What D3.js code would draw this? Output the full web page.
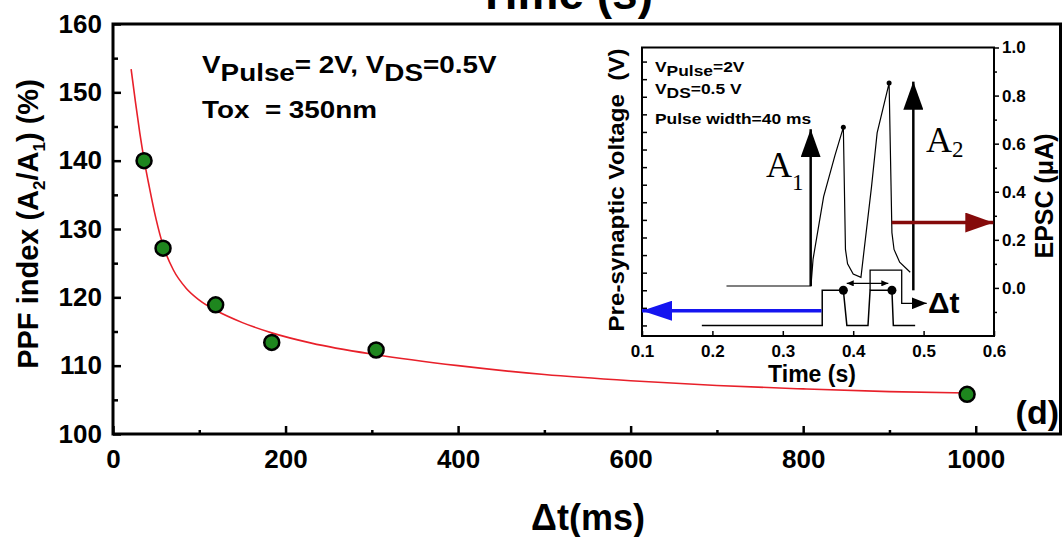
<!DOCTYPE html>
<html>
<head>
<meta charset="utf-8">
<script src="https://cdn.jsdelivr.net/npm/d3@7"></script>
<style>
  html, body { margin: 0; padding: 0; background: #fff; }
  svg { display: block; font-family: "Liberation Sans", Arial, sans-serif; font-weight: bold; }
  .pre { white-space: pre; }
</style>
</head>
<body>
<div id="chart"></div>
<script>
// main panel: PPF index vs pulse interval
const dtValues = [36, 58, 119, 184, 305, 990];
const ppfValues = [140, 127.2, 118.9, 113.4, 112.3, 105.8];
// fitted curve
const fitDt = [21, 26, 31, 36, 42, 50, 58, 70, 85, 100, 119, 150, 184, 230, 305, 400, 500, 600, 700, 800, 900, 990];
const fitPpf = [153.4, 148.6, 144.1, 140.2, 136.2, 131.4, 127.6, 124.0, 121.3, 119.6, 118.1, 116.3, 114.8, 113.3, 111.6, 110.0, 108.7, 107.8, 107.1, 106.6, 106.2, 106.0];
const xTicks = [0, 200, 400, 600, 800, 1000];
const yTicks = [100, 110, 120, 130, 140, 150, 160];

// inset: pre-synaptic pulses and EPSC
const epscTime = [0.220, 0.340, 0.343, 0.358, 0.374, 0.386, 0.389, 0.392, 0.400, 0.411, 0.414, 0.426, 0.434, 0.451, 0.455, 0.458, 0.466, 0.481];
const epscCurrent = [0.008, 0.008, 0.12, 0.38, 0.55, 0.668, 0.16, 0.10, 0.058, 0.044, 0.12, 0.42, 0.645, 0.852, 0.23, 0.16, 0.107, 0.065];
const pulseTime = [0.185, 0.356, 0.356, 0.386, 0.391, 0.421, 0.424, 0.455, 0.457, 0.488];
const pulseVolt = [0, 0, 2, 2, 0, 0, 2, 2, 0, 0];
const insetXTicks = [0.1, 0.2, 0.3, 0.4, 0.5, 0.6];
const insetYTicks = [0.0, 0.2, 0.4, 0.6, 0.8, 1.0];

const width = 1063, height = 537;
const svg = d3.select("#chart").append("svg")
  .attr("width", width).attr("height", height);

// ---------- main panel ----------
const x = d3.scaleLinear().domain([0, 1100]).range([113, 1062]);
const y = d3.scaleLinear().domain([100, 160]).range([434, 24]);

// cut-off title of the panel above
svg.append("text").attr("x", 653).attr("y", 9).attr("text-anchor", "end")
  .attr("font-size", 46).text("Time (s)");

const xAxis = d3.axisBottom(x).tickValues(xTicks).tickSize(-8).tickPadding(16).tickFormat(d3.format("d"));
const xMinor = d3.axisBottom(x).tickValues(d3.range(100, 1000, 200)).tickSize(-4).tickFormat("");
const yAxis = d3.axisLeft(y).tickValues(yTicks).tickSize(-8).tickPadding(11).tickFormat(d3.format("d"));
const yMinor = d3.axisLeft(y).tickValues(d3.range(105, 160, 10)).tickSize(-5).tickFormat("");

function styleAxis(g, fs, sw) {
  g.select(".domain").remove();
  g.selectAll(".tick line").attr("stroke", "#000").attr("stroke-width", sw);
  g.selectAll(".tick text").attr("font-size", fs).attr("fill", "#000")
    .attr("font-family", "Liberation Sans, Arial, sans-serif").attr("font-weight", "bold");
}
svg.append("g").attr("transform", `translate(0,${y(100)})`).call(xAxis).call(styleAxis, 26, 2.5);
svg.append("g").attr("transform", `translate(0,${y(100)})`).call(xMinor).call(styleAxis, 26, 2.5);
svg.append("g").attr("transform", `translate(${x(0)},0)`).call(yAxis).call(styleAxis, 26, 2.5);
svg.append("g").attr("transform", `translate(${x(0)},0)`).call(yMinor).call(styleAxis, 26, 2.5);

// frame
svg.append("rect").attr("x", x(0)).attr("y", y(160))
  .attr("width", x(1100) - x(0) - 1.5).attr("height", y(100) - y(160))
  .attr("fill", "none").attr("stroke", "#000").attr("stroke-width", 3);

// fit line
const fitData = fitDt.map((d, i) => [d, fitPpf[i]]);
svg.append("path").datum(fitData)
  .attr("fill", "none").attr("stroke", "#e8202a").attr("stroke-width", 1.6)
  .attr("d", d3.line().x(d => x(d[0])).y(d => y(d[1])).curve(d3.curveMonotoneX));

// data points
svg.append("g").selectAll("circle").data(dtValues.map((d, i) => [d, ppfValues[i]]))
  .join("circle")
  .attr("cx", d => x(d[0])).attr("cy", d => y(d[1])).attr("r", 7.5)
  .attr("fill", "#1e861e").attr("stroke", "#000").attr("stroke-width", 2.5);

// annotations
const ann = svg.append("g").attr("transform", "translate(202,73) scale(1.16,1)");
const t1 = ann.append("text").attr("font-size", 24);
t1.append("tspan").text("V");
t1.append("tspan").attr("dy", 8).text("Pulse");
t1.append("tspan").attr("dy", -8).text("= 2V, V");
t1.append("tspan").attr("dy", 8).text("DS");
t1.append("tspan").attr("dy", -8).text("=0.5V");
ann.append("text").attr("class", "pre").attr("y", 45).attr("font-size", 24).text("Tox  = 350nm");

svg.append("text").attr("x", 1059).attr("y", 424).attr("text-anchor", "end")
  .attr("font-size", 34).text("(d)");

// axis titles
svg.append("text").attr("x", 588).attr("y", 530).attr("text-anchor", "middle")
  .attr("font-size", 36).text("\u0394t(ms)");
const yl = svg.append("text").attr("transform", "translate(38,224) rotate(-90)")
  .attr("text-anchor", "middle").attr("font-size", 29);
yl.append("tspan").text("PPF index (A");
yl.append("tspan").attr("dy", 7).attr("font-size", 17).text("2");
yl.append("tspan").attr("dy", -7).text("/A");
yl.append("tspan").attr("dy", 7).attr("font-size", 17).text("1");
yl.append("tspan").attr("dy", -7).text(") (%)");

// ---------- inset ----------
const ix = d3.scaleLinear().domain([0.1, 0.6]).range([642, 994]);
const iy = d3.scaleLinear().domain([-0.2, 1.0]).range([336, 47.5]);
const iv = d3.scaleLinear().domain([-0.6, 15.8]).range([336, 47.5]);

const insetX = d3.axisBottom(ix).tickValues(insetXTicks).tickSize(-5).tickPadding(9).tickFormat(d3.format(".1f"));
const insetR = d3.axisRight(iy).tickValues(insetYTicks).tickSize(5).tickPadding(3).tickFormat(d3.format(".1f"));
const insetRMinor = d3.axisRight(iy).tickValues(d3.range(-0.1, 1.0, 0.2)).tickSize(3).tickFormat("");
const insetL = d3.axisLeft(iv).tickValues(d3.range(0, 16, 1)).tickSize(-5).tickFormat("");

svg.append("g").attr("transform", `translate(0,${iy(-0.2)})`).call(insetX).call(styleAxis, 17, 1.5);
svg.append("g").attr("transform", `translate(${ix(0.6)},0)`).call(insetR).call(styleAxis, 17, 1.5);
svg.append("g").attr("transform", `translate(${ix(0.6)},0)`).call(insetRMinor).call(styleAxis, 17, 1.5);
svg.append("g").attr("transform", `translate(${ix(0.1)},0)`).call(insetL).call(styleAxis, 17, 1.5);

svg.append("rect").attr("x", ix(0.1)).attr("y", iy(1.0))
  .attr("width", ix(0.6) - ix(0.1)).attr("height", iy(-0.2) - iy(1.0))
  .attr("fill", "none").attr("stroke", "#000").attr("stroke-width", 2);

// pulse trace
svg.append("path").datum(pulseTime.map((d, i) => [d, pulseVolt[i]]))
  .attr("fill", "none").attr("stroke", "#000").attr("stroke-width", 1.5)
  .attr("d", d3.line().x(d => ix(d[0])).y(d => iv(d[1])));
// EPSC trace
svg.append("path").datum(epscTime.map((d, i) => [d, epscCurrent[i]]))
  .attr("fill", "none").attr("stroke", "#000").attr("stroke-width", 1.2)
  .attr("d", d3.line().x(d => ix(d[0])).y(d => iy(d[1])));

// dots at peak ends
svg.append("g").selectAll("circle.pk").data([[0.386, 2], [0.455, 2]]).join("circle")
  .attr("cx", d => ix(d[0])).attr("cy", d => iv(d[1])).attr("r", 4.5).attr("fill", "#000");
svg.append("g").selectAll("circle.ep").data([[0.386, 0.668], [0.451, 0.852]]).join("circle")
  .attr("cx", d => ix(d[0])).attr("cy", d => iy(d[1])).attr("r", 2.5).attr("fill", "#000");

// arrow markers (length w, width h)
const defs = svg.append("defs");
function marker(id, color, w, h) {
  defs.append("marker").attr("id", id).attr("viewBox", `0 0 ${w} ${h}`)
    .attr("refX", w).attr("refY", h / 2).attr("markerWidth", w).attr("markerHeight", h)
    .attr("markerUnits", "userSpaceOnUse").attr("orient", "auto-start-reverse")
    .append("path").attr("d", `M0,0 L${w},${h / 2} L0,${h} Z`).attr("fill", color);
}
marker("blk", "#000", 28, 20);
marker("sm", "#000", 7, 6);
marker("mid", "#000", 15, 12);
marker("blue", "#1515f0", 30, 20);
marker("red", "#850a0a", 28, 20);

function arrow(x1, y1, x2, y2, color, sw, mk, both) {
  const l = svg.append("line").attr("x1", x1).attr("y1", y1).attr("x2", x2).attr("y2", y2)
    .attr("stroke", color).attr("stroke-width", sw).attr("marker-end", `url(#${mk})`);
  if (both) l.attr("marker-start", `url(#${mk})`);
}
// A1, A2 arrows
arrow(ix(0.3396), iy(0.008), ix(0.3396), iy(0.66), "#000", 2.5, "blk");
arrow(ix(0.4854), iy(-0.01), ix(0.4854), iy(0.858), "#000", 2.5, "blk");
// delta-t marker
arrow(ix(0.3908), iy(0.019), ix(0.4499), iy(0.019), "#000", 1.2, "sm", true);
svg.append("path").attr("fill", "none").attr("stroke", "#000").attr("stroke-width", 1.3)
  .attr("d", `M${ix(0.424)},${iv(2)} V${iy(0.074)} H${ix(0.4689)} V${iy(-0.064)} H${ix(0.5044)}`)
  .attr("marker-end", "url(#mid)");
// blue and red direction arrows
arrow(ix(0.355), iy(-0.095), ix(0.1), iy(-0.095), "#1515f0", 3.5, "blue");
arrow(ix(0.4547), iy(0.272), ix(0.599), iy(0.272), "#850a0a", 3.5, "red");

// inset labels
const ia = svg.append("g").attr("transform", "translate(655,72) scale(1.16,1)").attr("font-size", 15);
const l1 = ia.append("text");
l1.append("tspan").text("V");
l1.append("tspan").attr("dy", 4).text("Pulse");
l1.append("tspan").attr("dy", -4).text("=2V");
const l2 = ia.append("text").attr("y", 22);
l2.append("tspan").text("V");
l2.append("tspan").attr("dy", 4).text("DS");
l2.append("tspan").attr("dy", -4).text("=0.5 V");
ia.append("text").attr("y", 52).text("Pulse width=40 ms");

function bigA(xp, yp, sub, dy) {
  const t = svg.append("text").attr("x", xp).attr("y", yp)
    .attr("font-family", "Liberation Serif, Times New Roman, serif").attr("font-weight", "normal").attr("font-size", 36);
  t.append("tspan").text("A");
  t.append("tspan").attr("dy", dy).attr("font-size", 23).text(sub);
}
bigA(766, 177, "1", 13);
bigA(926, 152, "2", 5);
svg.append("text").attr("x", 928).attr("y", 313).attr("font-size", 30).text("\u0394t");

svg.append("text").attr("x", 812).attr("y", 382).attr("text-anchor", "middle")
  .attr("font-size", 23).text("Time (s)");
svg.append("text").attr("class", "pre").attr("transform", "translate(624,190) rotate(-90) scale(1.1,1)")
  .attr("text-anchor", "middle").attr("font-size", 22).text("Pre-synaptic Voltage  (V)");
svg.append("text").attr("transform", "translate(1053,196) rotate(-90)").attr("text-anchor", "middle")
  .attr("font-size", 25).text("EPSC (\u03bcA)");
</script>
</body>
</html>
